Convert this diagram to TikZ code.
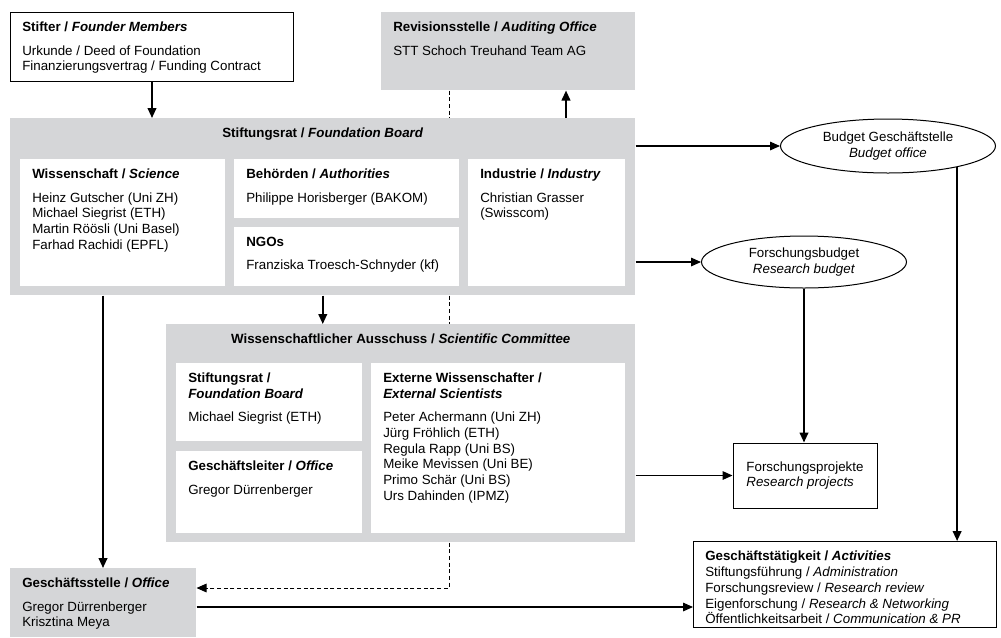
\documentclass[tikz,border=0pt]{standalone}
\usepackage{fontspec}
\setmainfont{Liberation Sans}
\usetikzlibrary{shapes,arrows.meta,calc}

\definecolor{boxgray}{RGB}{213,214,216}

\begin{document}
\begin{tikzpicture}[x=0.75pt,y=-0.75pt,
		font=\fontsize{10}{11.8}\selectfont,
		>={Triangle[length=7.5pt,width=6.5pt]},
		graybox/.style={fill=boxgray, anchor=north west, inner sep=0pt},
		whitebox/.style={fill=white, anchor=north west, inner sep=0pt},
		linebox/.style={fill=white, draw=black, line width=0.75pt, anchor=north west, inner sep=0pt},
		txt/.style={anchor=north west, align=left, inner xsep=9pt, inner ysep=7.5pt},
		headline/.style={anchor=north, inner ysep=7.5pt},
		oval/.style={ellipse, draw=black, line width=0.75pt, fill=white, align=center, inner sep=0pt},
		mainarrow/.style={->, line width=1.4pt},
		sidearrow/.style={->, line width=0.8pt},
		dashlink/.style={dash pattern=on 3pt off 2pt, line width=0.75pt}]
		\useasboundingbox (0,0) rectangle (1001,637);
		\node[linebox, minimum width=212.25pt, minimum height=51.75pt] (stifter) at (10,12) {};
		\node[txt] (stifterTxt) at (stifter.north west) {\textbf{Stifter / \textit{Founder Members}}\\[5.5pt] Urkunde / Deed of Foundation\\ Finanzierungsvertrag / Funding Contract};
		\node[graybox, minimum width=190.5pt, minimum height=58.5pt] (revision) at (381,12) {};
		\node[txt] (revisionTxt) at (revision.north west) {\textbf{Revisionsstelle / \textit{Auditing Office}}\\[5.5pt] STT Schoch Treuhand Team AG};
		\node[graybox, minimum width=468.75pt, minimum height=132.75pt] (board) at (10,118) {};
		\node[headline] (boardTxt) at (board.north) {\textbf{Stiftungsrat / \textit{Foundation Board}}};
		\node[whitebox, minimum width=153.75pt, minimum height=95.25pt] (science) at (20,159) {};
		\node[txt] (scienceTxt) at (science.north west) {\textbf{Wissenschaft / \textit{Science}}\\[5.5pt] Heinz Gutscher (Uni ZH)\\ Michael Siegrist (ETH)\\ Martin Röösli (Uni Basel)\\ Farhad Rachidi (EPFL)};
		\node[whitebox, minimum width=168.75pt, minimum height=44.25pt] (authority) at (234,159) {};
		\node[txt] (authorityTxt) at (authority.north west) {\textbf{Behörden / \textit{Authorities}}\\[5.5pt] Philippe Horisberger (BAKOM)};
		\node[whitebox, minimum width=168.75pt, minimum height=44.25pt] (ngo) at (234,227) {};
		\node[txt] (ngoTxt) at (ngo.north west) {\textbf{NGOs}\\[5.5pt] Franziska Troesch-Schnyder (kf)};
		\node[whitebox, minimum width=117.75pt, minimum height=95.25pt] (industry) at (468,159) {};
		\node[txt] (industryTxt) at (industry.north west) {\textbf{Industrie / \textit{Industry}}\\[5.5pt] Christian Grasser\\ (Swisscom)};
		\node[graybox, minimum width=351.75pt, minimum height=163.5pt] (committee) at (166,324) {};
		\node[headline] (committeeTxt) at (committee.north) {\textbf{Wissenschaftlicher Ausschuss / \textit{Scientific Committee}}};
		\node[whitebox, minimum width=139.5pt, minimum height=58.5pt] (member) at (176,363) {};
		\node[txt] (memberTxt) at (member.north west) {\textbf{Stiftungsrat /}\\ \textbf{\textit{Foundation Board}}\\[5.5pt] Michael Siegrist (ETH)};
		\node[whitebox, minimum width=139.5pt, minimum height=61.5pt] (director) at (176,451) {};
		\node[txt] (directorTxt) at (director.north west) {\textbf{Geschäftsleiter / \textit{Office}}\\[5.5pt] Gregor Dürrenberger};
		\node[whitebox, minimum width=190.5pt, minimum height=127.5pt] (external) at (371,363) {};
		\node[txt] (externalTxt) at (external.north west) {\textbf{Externe Wissenschafter /}\\ \textbf{\textit{External Scientists}}\\[5.5pt] Peter Achermann (Uni ZH)\\ Jürg Fröhlich (ETH)\\ Regula Rapp (Uni BS)\\ Meike Mevissen (Uni BE)\\ Primo Schär (Uni BS)\\ Urs Dahinden (IPMZ)};
		\node[graybox, minimum width=139.5pt, minimum height=51.75pt] (office) at (10,568) {};
		\node[txt] (officeTxt) at (office.north west) {\textbf{Geschäftsstelle / \textit{Office}}\\[5.5pt] Gregor Dürrenberger\\ Krisztina Meya};
		\node[oval, minimum width=161.25pt, minimum height=40.5pt] (budget) at (888,146) {Budget Geschäftstelle\\ \textit{Budget office}};
		\node[oval, minimum width=153.75pt, minimum height=39pt] (resbudget) at (804,262) {Forschungsbudget\\ \textit{Research budget}};
		\node[linebox, anchor=center, align=left, minimum width=108pt, minimum height=48.75pt] (projects) at (805,475.5) {Forschungsprojekte\\ \textit{Research projects}};
		\node[linebox, minimum width=227.25pt, minimum height=64.5pt] (activities) at (693,541) {};
		\node[txt] (activitiesTxt) at (activities.north west) {\textbf{Geschäftstätigkeit / \textit{Activities}}\\ Stiftungsführung / \textit{Administration}\\ Forschungsreview / \textit{Research review}\\ Eigenforschung / \textit{Research \& Networking}\\ Öffentlichkeitsarbeit / \textit{Communication \& PR}};
		\draw[mainarrow] (stifter.south) -- (stifter.south |- board.north);
		\draw[mainarrow] (board.north -| 566,0) -- (revision.south -| 566,0);
		\draw[dashlink] (revision.south -| 449,0) -- (board.north -| 449,0);
		\draw[dashlink] (board.south -| 449,0) -- (committee.north -| 449,0);
		\draw[dashlink, ->] (committee.south -| 449,0) |- (office.east |- 0,588);
		\draw[mainarrow] (board.south) -- (board.south |- committee.north);
		\draw[mainarrow] (board.south -| 103,0) -- (office.north -| 103,0);
		\draw[sidearrow] (board.east |- budget.west) -- (budget.west);
		\draw[sidearrow] (board.east |- resbudget.west) -- (resbudget.west);
		\draw[mainarrow] (resbudget.south) -- (resbudget.south |- projects.north);
		\draw[mainarrow] (budget.-17) -- (budget.-17 |- activities.north);
		\draw[sidearrow] (committee.east |- projects.west) -- (projects.west);
		\draw[sidearrow] (office.east |- 0,607) -- (activities.west |- 0,607);
\end{tikzpicture}
\end{document}
